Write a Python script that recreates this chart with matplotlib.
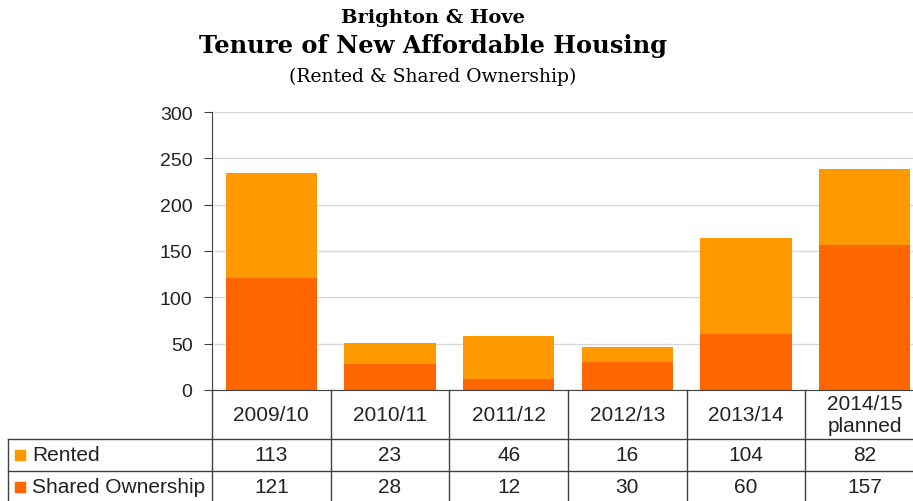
import matplotlib.pyplot as plt
from matplotlib.transforms import blended_transform_factory

years = ['2009/10', '2010/11', '2011/12', '2012/13', '2013/14', '2014/15\nplanned']
rented = [113, 23, 46, 16, 104, 82]
shared = [121, 28, 12, 30, 60, 157]
series_names = ['Rented', 'Shared Ownership']
colors = ['#FF9900', '#FF6600']

plt.rcParams['font.family'] = ['Liberation Sans', 'DejaVu Sans']

fig = plt.figure(figsize=(9.13, 5.02), dpi=100)
# axes runs a little past the right edge, like the original
ax = fig.add_axes([212 / 913, 111 / 502, 712 / 913, 278 / 502])

x = list(range(len(years)))
ax.bar(x, shared, width=0.77, color=colors[1], zorder=2)
ax.bar(x, rented, width=0.77, bottom=shared, color=colors[0], zorder=2)

ax.set_xlim(-0.5, len(years) - 0.5)
ax.set_ylim(0, 300)
ax.set_yticks(range(0, 301, 50))
ax.yaxis.grid(True, color='#D9D9D9', linewidth=1, zorder=0)
ax.set_xticks([])
for s in ['top', 'right']:
    ax.spines[s].set_visible(False)
ax.spines['left'].set_color('#404040')
ax.spines['bottom'].set_color('#404040')
ax.tick_params(axis='y', length=6, pad=8, labelsize=14, colors='#404040', labelcolor='#222222')

# data table under the axis
trans = blended_transform_factory(ax.transData, ax.transAxes)
row_h = 278.0
y_head = -49 / row_h
y_r1 = -81 / row_h
y_r2 = -113 / row_h
x_left = -0.5 - 204 / 118.7
lc = '#404040'
lw = 1
fs = 15

for i in range(len(years) + 1):
    ax.plot([i - 0.5, i - 0.5], [0, y_r2], color=lc, lw=lw, transform=trans, clip_on=False)
ax.plot([x_left, x_left], [y_head, y_r2], color=lc, lw=lw, transform=trans, clip_on=False)
for yy in [y_head, y_r1]:
    ax.plot([x_left, len(years) - 0.5], [yy, yy], color=lc, lw=lw, transform=trans, clip_on=False)

for i, yr in enumerate(years):
    ax.text(i, y_head / 2, yr, ha='center', va='center', fontsize=fs, color='#222222',
            transform=trans, clip_on=False, linespacing=1.15)
    ax.text(i, (y_head + y_r1) / 2, str(rented[i]), ha='center', va='center', fontsize=fs,
            color='#222222', transform=trans, clip_on=False)
    ax.text(i, (y_r1 + y_r2) / 2, str(shared[i]), ha='center', va='center', fontsize=fs,
            color='#222222', transform=trans, clip_on=False)

for name, c, (ya, yb) in zip(series_names, colors, [(y_head, y_r1), (y_r1, y_r2)]):
    ym = (ya + yb) / 2
    ax.plot([x_left + 0.1], [ym], marker='s', markersize=7, color=c, transform=trans, clip_on=False)
    ax.text(x_left + 0.205, ym, name, ha='left', va='center', fontsize=fs, color='#222222',
            transform=trans, clip_on=False)

fig.text(0.474, 0.964, 'Brighton & Hove', ha='center', va='center', fontsize=14,
         family='DejaVu Serif', weight='bold')
fig.text(0.474, 0.908, 'Tenure of New Affordable Housing', ha='center', va='center', fontsize=17.4,
         family='DejaVu Serif', weight='bold')
fig.text(0.474, 0.847, '(Rented & Shared Ownership)', ha='center', va='center', fontsize=13.5,
         family='DejaVu Serif')

plt.savefig('out.png', dpi=100)
